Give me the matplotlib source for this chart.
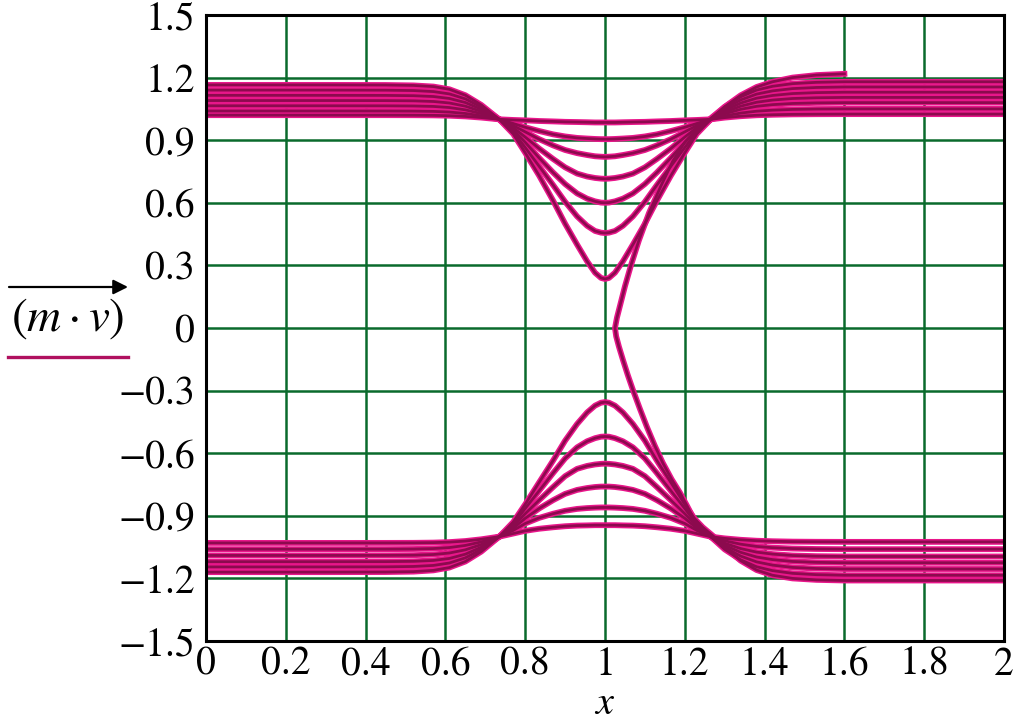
import matplotlib
matplotlib.use("Agg")
from matplotlib import pyplot as plt
from matplotlib.lines import Line2D

plt.rcParams["font.family"] = ["STIXGeneral", "DejaVu Serif"]
plt.rcParams["mathtext.fontset"] = "stix"

# ── datos ──────────────────────────────────────────────────────
x_up = [0.0, 0.3, 0.45, 0.52, 0.57, 0.61, 0.65, 0.69,
        0.735, 0.77, 0.8, 0.835, 0.87, 0.9, 0.93, 0.955, 0.975, 0.99, 1.0,
        1.01, 1.025, 1.045, 1.07, 1.1, 1.13, 1.165, 1.2, 1.23, 1.265,
        1.3, 1.34, 1.38, 1.42, 1.47, 1.53, 1.6, 1.8, 2.0]

up_1 = [1.165, 1.165, 1.1645, 1.1625, 1.157, 1.144, 1.1155, 1.069,
        1.0, 0.93, 0.84, 0.73, 0.61, 0.50, 0.40, 0.32, 0.265, 0.24, 0.235,
        0.24, 0.265, 0.32, 0.40, 0.50, 0.61, 0.73, 0.84, 0.93, 1.0,
        1.0594, 1.108, 1.1404, 1.1584, 1.171, 1.1773, 1.18, 1.18, 1.18]
up_2 = [1.14, 1.14, 1.1396, 1.1379, 1.133, 1.1218, 1.098, 1.0588,
        1.0, 0.94, 0.865, 0.775, 0.685, 0.605, 0.535, 0.49, 0.465, 0.457, 0.455,
        0.457, 0.465, 0.49, 0.535, 0.605, 0.685, 0.775, 0.865, 0.94, 1.0,
        1.0512, 1.093, 1.1209, 1.1364, 1.1473, 1.1527, 1.155, 1.155, 1.155]
up_3 = [1.115, 1.115, 1.1147, 1.1133, 1.1093, 1.1, 1.0805, 1.0483,
        1.0, 0.95, 0.89, 0.815, 0.745, 0.69, 0.645, 0.62, 0.607, 0.601, 0.60,
        0.601, 0.607, 0.62, 0.645, 0.69, 0.745, 0.815, 0.89, 0.95, 1.0,
        1.0429, 1.078, 1.1014, 1.1144, 1.1235, 1.128, 1.13, 1.13, 1.13]
up_4 = [1.09, 1.09, 1.0897, 1.0887, 1.0855, 1.0783, 1.063, 1.0378,
        1.0, 0.96, 0.915, 0.86, 0.81, 0.77, 0.74, 0.726, 0.719, 0.716, 0.715,
        0.716, 0.719, 0.726, 0.74, 0.77, 0.81, 0.86, 0.915, 0.96, 1.0,
        1.0347, 1.063, 1.0819, 1.0924, 1.0998, 1.1034, 1.105, 1.105, 1.105]
up_5 = [1.065, 1.065, 1.0648, 1.064, 1.0618, 1.0566, 1.0455, 1.0273,
        1.0, 0.97, 0.94, 0.905, 0.875, 0.853, 0.838, 0.829, 0.823, 0.821, 0.82,
        0.821, 0.823, 0.829, 0.838, 0.853, 0.875, 0.905, 0.94, 0.97, 1.0,
        1.0264, 1.048, 1.0624, 1.0704, 1.076, 1.0788, 1.08, 1.08, 1.08]
up_6 = [1.04, 1.04, 1.0399, 1.0394, 1.038, 1.0348, 1.028, 1.0168,
        1.0, 0.98, 0.962, 0.944, 0.928, 0.918, 0.911, 0.908, 0.906, 0.905, 0.905,
        0.905, 0.906, 0.908, 0.911, 0.918, 0.928, 0.944, 0.962, 0.98, 1.0,
        1.0165, 1.03, 1.039, 1.044, 1.0475, 1.0493, 1.05, 1.05, 1.05]
up_7 = [1.02, 1.02, 1.02, 1.0197, 1.019, 1.0174, 1.014, 1.0084,
        1.0, 0.997, 0.995, 0.992, 0.99, 0.988, 0.987, 0.986, 0.985, 0.985, 0.985,
        0.985, 0.985, 0.986, 0.987, 0.988, 0.99, 0.992, 0.995, 0.997, 1.0,
        1.0083, 1.015, 1.0195, 1.022, 1.0238, 1.0246, 1.025, 1.025, 1.025]

lo_1 = [-1.17, -1.17, -1.1695, -1.1675, -1.1615, -1.1479, -1.119, -1.0714,
        -1.0, -0.93, -0.845, -0.74, -0.635, -0.54, -0.46, -0.405, -0.372, -0.358, -0.355,
        -0.358, -0.372, -0.405, -0.46, -0.54, -0.635, -0.74, -0.845, -0.93, -1.0,
        -1.061, -1.111, -1.1443, -1.1628, -1.1758, -1.1822, -1.185, -1.185, -1.185]
lo_2 = [-1.145, -1.145, -1.1446, -1.1428, -1.1378, -1.1262, -1.1015, -1.0609,
        -1.0, -0.94, -0.865, -0.78, -0.695, -0.625, -0.572, -0.543, -0.528, -0.521, -0.52,
        -0.521, -0.528, -0.543, -0.572, -0.625, -0.695, -0.78, -0.865, -0.94, -1.0,
        -1.0512, -1.093, -1.1209, -1.1364, -1.1473, -1.1527, -1.155, -1.155, -1.155]
lo_3 = [-1.12, -1.12, -1.1196, -1.1182, -1.114, -1.1044, -1.084, -1.0504,
        -1.0, -0.95, -0.89, -0.825, -0.762, -0.71, -0.675, -0.661, -0.654, -0.651, -0.65,
        -0.651, -0.654, -0.661, -0.675, -0.71, -0.762, -0.825, -0.89, -0.95, -1.0,
        -1.0413, -1.075, -1.0975, -1.11, -1.1188, -1.1231, -1.125, -1.125, -1.125]
lo_4 = [-1.09, -1.09, -1.0897, -1.0887, -1.0855, -1.0783, -1.063, -1.0378,
        -1.0, -0.96, -0.912, -0.865, -0.825, -0.795, -0.776, -0.767, -0.762, -0.76, -0.76,
        -0.76, -0.762, -0.767, -0.776, -0.795, -0.825, -0.865, -0.912, -0.96, -1.0,
        -1.0314, -1.057, -1.0741, -1.0836, -1.0903, -1.0936, -1.095, -1.095, -1.095]
lo_5 = [-1.06, -1.06, -1.0598, -1.0591, -1.057, -1.0522, -1.042, -1.0252,
        -1.0, -0.97, -0.937, -0.91, -0.89, -0.876, -0.867, -0.863, -0.861, -0.86, -0.86,
        -0.86, -0.861, -0.863, -0.867, -0.876, -0.89, -0.91, -0.937, -0.97, -1.0,
        -1.0198, -1.036, -1.0468, -1.0528, -1.057, -1.0591, -1.06, -1.06, -1.06]
lo_6 = [-1.03, -1.03, -1.0299, -1.0296, -1.0285, -1.0261, -1.021, -1.0126,
        -1.0, -0.985, -0.972, -0.962, -0.955, -0.95, -0.947, -0.946, -0.945, -0.945, -0.945,
        -0.945, -0.945, -0.946, -0.947, -0.95, -0.955, -0.962, -0.972, -0.985, -1.0,
        -1.0083, -1.015, -1.0195, -1.022, -1.0238, -1.0246, -1.025, -1.025, -1.025]

# curva que cruza el cero
x_cross = [1.6, 1.53, 1.47, 1.42, 1.38, 1.34, 1.3, 1.265, 1.23, 1.2, 1.17, 1.14,
           1.11, 1.085, 1.065, 1.05, 1.038, 1.03, 1.025,
           1.028, 1.035, 1.045, 1.057, 1.07, 1.087, 1.105, 1.125, 1.145, 1.167,
           1.188, 1.205, 1.22, 1.245, 1.27, 1.3, 1.34, 1.38, 1.42, 1.47, 1.53,
           1.6, 2.0]
y_cross = [1.218, 1.212, 1.2, 1.18, 1.155, 1.115, 1.06, 1.005, 0.95, 0.89, 0.8, 0.68,
           0.55, 0.42, 0.30, 0.2, 0.11, 0.05, 0.0,
           -0.04, -0.09, -0.153, -0.225, -0.297, -0.385, -0.474, -0.565, -0.647, -0.725,
           -0.79, -0.85, -0.905, -0.955, -0.995, -1.05, -1.115, -1.16, -1.185, -1.2, -1.207,
           -1.21, -1.21]

x_ticks = [0, 0.2, 0.4, 0.6, 0.8, 1.0, 1.2, 1.4, 1.6, 1.8, 2.0]
x_labels = ["0", "0.2", "0.4", "0.6", "0.8", "1", "1.2", "1.4", "1.6", "1.8", "2"]
y_ticks = [-1.5, -1.2, -0.9, -0.6, -0.3, 0, 0.3, 0.6, 0.9, 1.2, 1.5]
y_labels = ["\u22121.5", "\u22121.2", "\u22120.9", "\u22120.6", "\u22120.3", "0",
            "0.3", "0.6", "0.9", "1.2", "1.5"]

# ── figura ─────────────────────────────────────────────────────
W, H = 1020, 722
fig = plt.figure(figsize=(W / 100, H / 100), dpi=100)
ax = fig.add_axes([206 / W, 81 / H, 798 / W, 626 / H])

ROSA = "#e8168a"
GRANATE = "#8c0a4e"
VERDE = "#0a6a2c"

curvas = [up_1, up_2, up_3, up_4, up_5, up_6, up_7,
          lo_1, lo_2, lo_3, lo_4, lo_5, lo_6]
for yy in curvas:
    ax.plot(x_up, yy, color=ROSA, lw=4.2, zorder=3)
ax.plot(x_cross, y_cross, color=ROSA, lw=4.2, zorder=3)
for yy in curvas:
    ax.plot(x_up, yy, color=GRANATE, lw=2.0, zorder=4)
ax.plot(x_cross, y_cross, color=GRANATE, lw=2.0, zorder=4)

ax.set_xlim(0, 2)
ax.set_ylim(-1.5, 1.5)
ax.set_xticks(x_ticks, x_labels)
ax.set_yticks(y_ticks, y_labels)
ax.tick_params(length=0, labelsize=28.5)
ax.tick_params(axis="y", pad=8)
ax.tick_params(axis="x", pad=4)
ax.grid(True, color=VERDE, lw=1.8)
ax.set_axisbelow(True)
for s in ax.spines.values():
    s.set_linewidth(2.2)
    s.set_color("black")
    s.set_zorder(5)

ax.set_xlabel("$x$", fontsize=29, labelpad=1)

# etiqueta del eje y: flecha, texto y subrayado
ax.annotate("", xy=(128, H - 287), xytext=(9, H - 287),
            xycoords="figure pixels", textcoords="figure pixels",
            arrowprops=dict(arrowstyle="-|>", color="black", lw=1.6,
                            mutation_scale=22, shrinkA=0, shrinkB=0))
fig.text(68 / W, (H - 319) / H, r"$(m \cdot v)$", fontsize=34,
         ha="center", va="center")
fig.add_artist(Line2D([8 / W, 128 / W], [(H - 357) / H] * 2,
                      color="#b0105f", lw=2.4, transform=fig.transFigure))

fig.savefig("out.png", dpi=100)
